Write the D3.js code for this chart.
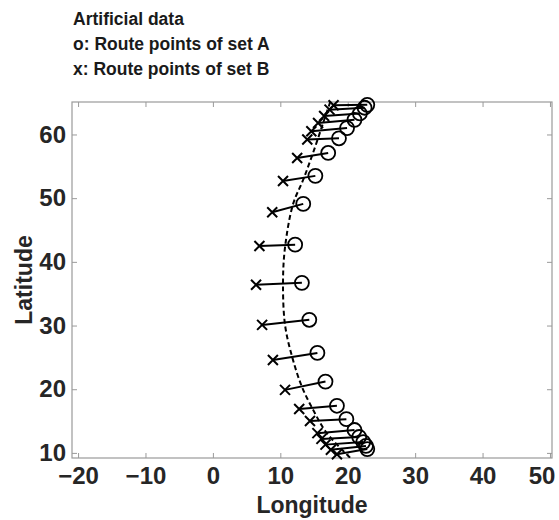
<!DOCTYPE html>
<html>
<head>
<meta charset="utf-8">
<script src="https://cdn.jsdelivr.net/npm/d3@7"></script>
<style>
  body { margin: 0; background: #fff; }
  text { font-family: "Liberation Sans", Arial, sans-serif; font-weight: bold; }
</style>
</head>
<body>
<div id="chart"></div>
<script>
// route points of set A (circles)
var lonA = [22.9, 22.5, 21.8, 21.0, 19.9, 18.7, 17.1, 15.2, 13.4, 12.2, 13.2, 14.3, 15.5, 16.7, 18.4, 19.8, 21.0, 21.7, 22.3, 22.7, 22.9];
var latA = [64.65, 64.2, 63.3, 62.3, 61.0, 59.4, 57.1, 53.5, 49.1, 42.7, 36.7, 30.9, 25.7, 21.2, 17.4, 15.3, 13.6, 12.5, 11.7, 11.1, 10.6];
// route points of set B (crosses)
var lonB = [17.9, 17.3, 16.5, 15.6, 14.6, 14.0, 12.5, 10.4, 8.8, 6.9, 6.4, 7.3, 8.9, 10.7, 12.8, 14.4, 15.5, 16.1, 16.7, 17.5, 18.4];
var latB = [64.6, 63.9, 62.9, 61.8, 60.5, 59.2, 56.3, 52.7, 47.8, 42.5, 36.4, 30.1, 24.6, 19.9, 16.9, 15.0, 13.1, 12.2, 11.3, 10.5, 9.8];
// dashed reference route
var lonC = [17.4, 16.35, 14.9, 13.4, 11.9, 10.7, 10.4, 10.7, 11.75, 13.2, 14.9, 16.9, 20.4];
var latC = [65.1, 61.8, 57.25, 52.9, 49.1, 42.3, 36.7, 30.1, 25.1, 20.4, 16.7, 13.1, 9.2];

var xTicks = [-20, -10, 0, 10, 20, 30, 40, 50];
var yTicks = [10, 20, 30, 40, 50, 60];
var titleLines = ["Artificial data", "o: Route points of set A", "x: Route points of set B"];

const W = 559, H = 520;
const plot = {left: 72, top: 102, right: 552, bottom: 458};

var svg = d3.select("#chart").append("svg")
    .attr("width", W)
    .attr("height", H);

var x = d3.scaleLinear().domain([-20.9, 50.3]).range([plot.left, plot.right]);
var y = d3.scaleLinear().domain([9.2, 65.1]).range([plot.bottom, plot.top]);

// title
svg.append("g").selectAll("text")
    .data(titleLines)
    .join("text")
    .attr("x", 73)
    .attr("y", function(d, i) { return 25 + i * 25; })
    .attr("font-size", 17.5)
    .attr("fill", "#1a1a1a")
    .text(function(d) { return d; });

svg.append("defs").append("clipPath").attr("id", "clip")
  .append("rect")
    .attr("x", plot.left).attr("y", plot.top)
    .attr("width", plot.right - plot.left)
    .attr("height", plot.bottom - plot.top);

// axes box
var axisColor = "#9a9a9a";
svg.append("rect")
    .attr("x", plot.left).attr("y", plot.top)
    .attr("width", plot.right - plot.left)
    .attr("height", plot.bottom - plot.top)
    .attr("fill", "none")
    .attr("stroke", axisColor)
    .attr("stroke-width", 1.2);

function styleAxis(g) {
    g.select(".domain").remove();
    g.selectAll(".tick line").attr("stroke", axisColor);
    g.selectAll(".tick text")
        .attr("font-size", 24)
        .attr("fill", "#262626")
        .attr("font-family", "Liberation Sans, Arial, sans-serif")
        .attr("font-weight", "bold");
}

var fmt = function(d) { return d < 0 ? "\u2212" + Math.abs(d) : d; };

var xAxis = svg.append("g")
    .attr("transform", `translate(0, ${plot.bottom})`)
    .call(d3.axisBottom(x).tickValues(xTicks).tickFormat(fmt).tickSizeInner(-5).tickSizeOuter(0).tickPadding(9))
    .call(styleAxis);
// last label sits at the figure edge, keep it inside
xAxis.selectAll(".tick text")
    .filter(function(d) { return d === xTicks[xTicks.length - 1]; })
    .attr("text-anchor", "end")
    .attr("x", 5);

svg.append("g")
    .attr("transform", `translate(0, ${plot.top})`)
    .call(d3.axisTop(x).tickValues(xTicks).tickFormat("").tickSizeInner(-5).tickSizeOuter(0))
    .call(styleAxis);
svg.append("g")
    .attr("transform", `translate(${plot.left}, 0)`)
    .call(d3.axisLeft(y).tickValues(yTicks).tickSizeInner(-5).tickSizeOuter(0).tickPadding(6))
    .call(styleAxis);
svg.append("g")
    .attr("transform", `translate(${plot.right}, 0)`)
    .call(d3.axisRight(y).tickValues(yTicks).tickFormat("").tickSizeInner(-5).tickSizeOuter(0))
    .call(styleAxis);

// axis labels
svg.append("text")
    .attr("x", (plot.left + plot.right) / 2)
    .attr("y", 513)
    .attr("text-anchor", "middle")
    .attr("font-size", 23)
    .attr("fill", "#262626")
    .text("Longitude");

svg.append("text")
    .attr("transform", `translate(32, ${(plot.top + plot.bottom) / 2}) rotate(-90)`)
    .attr("text-anchor", "middle")
    .attr("font-size", 23)
    .attr("fill", "#262626")
    .text("Latitude");

var idx = d3.range(lonA.length);

// dashed route
var curve = d3.line()
    .x(function(i) { return x(lonC[i]); })
    .y(function(i) { return y(latC[i]); })
    .curve(d3.curveCatmullRom);
svg.append("path")
    .attr("clip-path", "url(#clip)")
    .attr("d", curve(d3.range(lonC.length)))
    .attr("fill", "none")
    .attr("stroke", "#000")
    .attr("stroke-width", 2)
    .attr("stroke-dasharray", "5,3");

var marks = svg.append("g");

// connecting lines
marks.append("g").selectAll("line")
    .data(idx)
    .join("line")
    .attr("x1", function(i) { return x(lonA[i]); })
    .attr("y1", function(i) { return y(latA[i]); })
    .attr("x2", function(i) { return x(lonB[i]); })
    .attr("y2", function(i) { return y(latB[i]); })
    .attr("stroke", "#000")
    .attr("stroke-width", 2);

// circles (set A)
marks.append("g").selectAll("circle")
    .data(idx)
    .join("circle")
    .attr("cx", function(i) { return x(lonA[i]); })
    .attr("cy", function(i) { return y(latA[i]); })
    .attr("r", 7)
    .attr("fill", "none")
    .attr("stroke", "#000")
    .attr("stroke-width", 1.8);

// crosses (set B)
var s = 5;
marks.append("g").selectAll("path")
    .data(idx)
    .join("path")
    .attr("d", function(i) {
        var cx = x(lonB[i]), cy = y(latB[i]);
        return `M${cx - s},${cy - s}L${cx + s},${cy + s}M${cx - s},${cy + s}L${cx + s},${cy - s}`;
    })
    .attr("stroke", "#000")
    .attr("stroke-width", 2);
</script>
</body>
</html>
